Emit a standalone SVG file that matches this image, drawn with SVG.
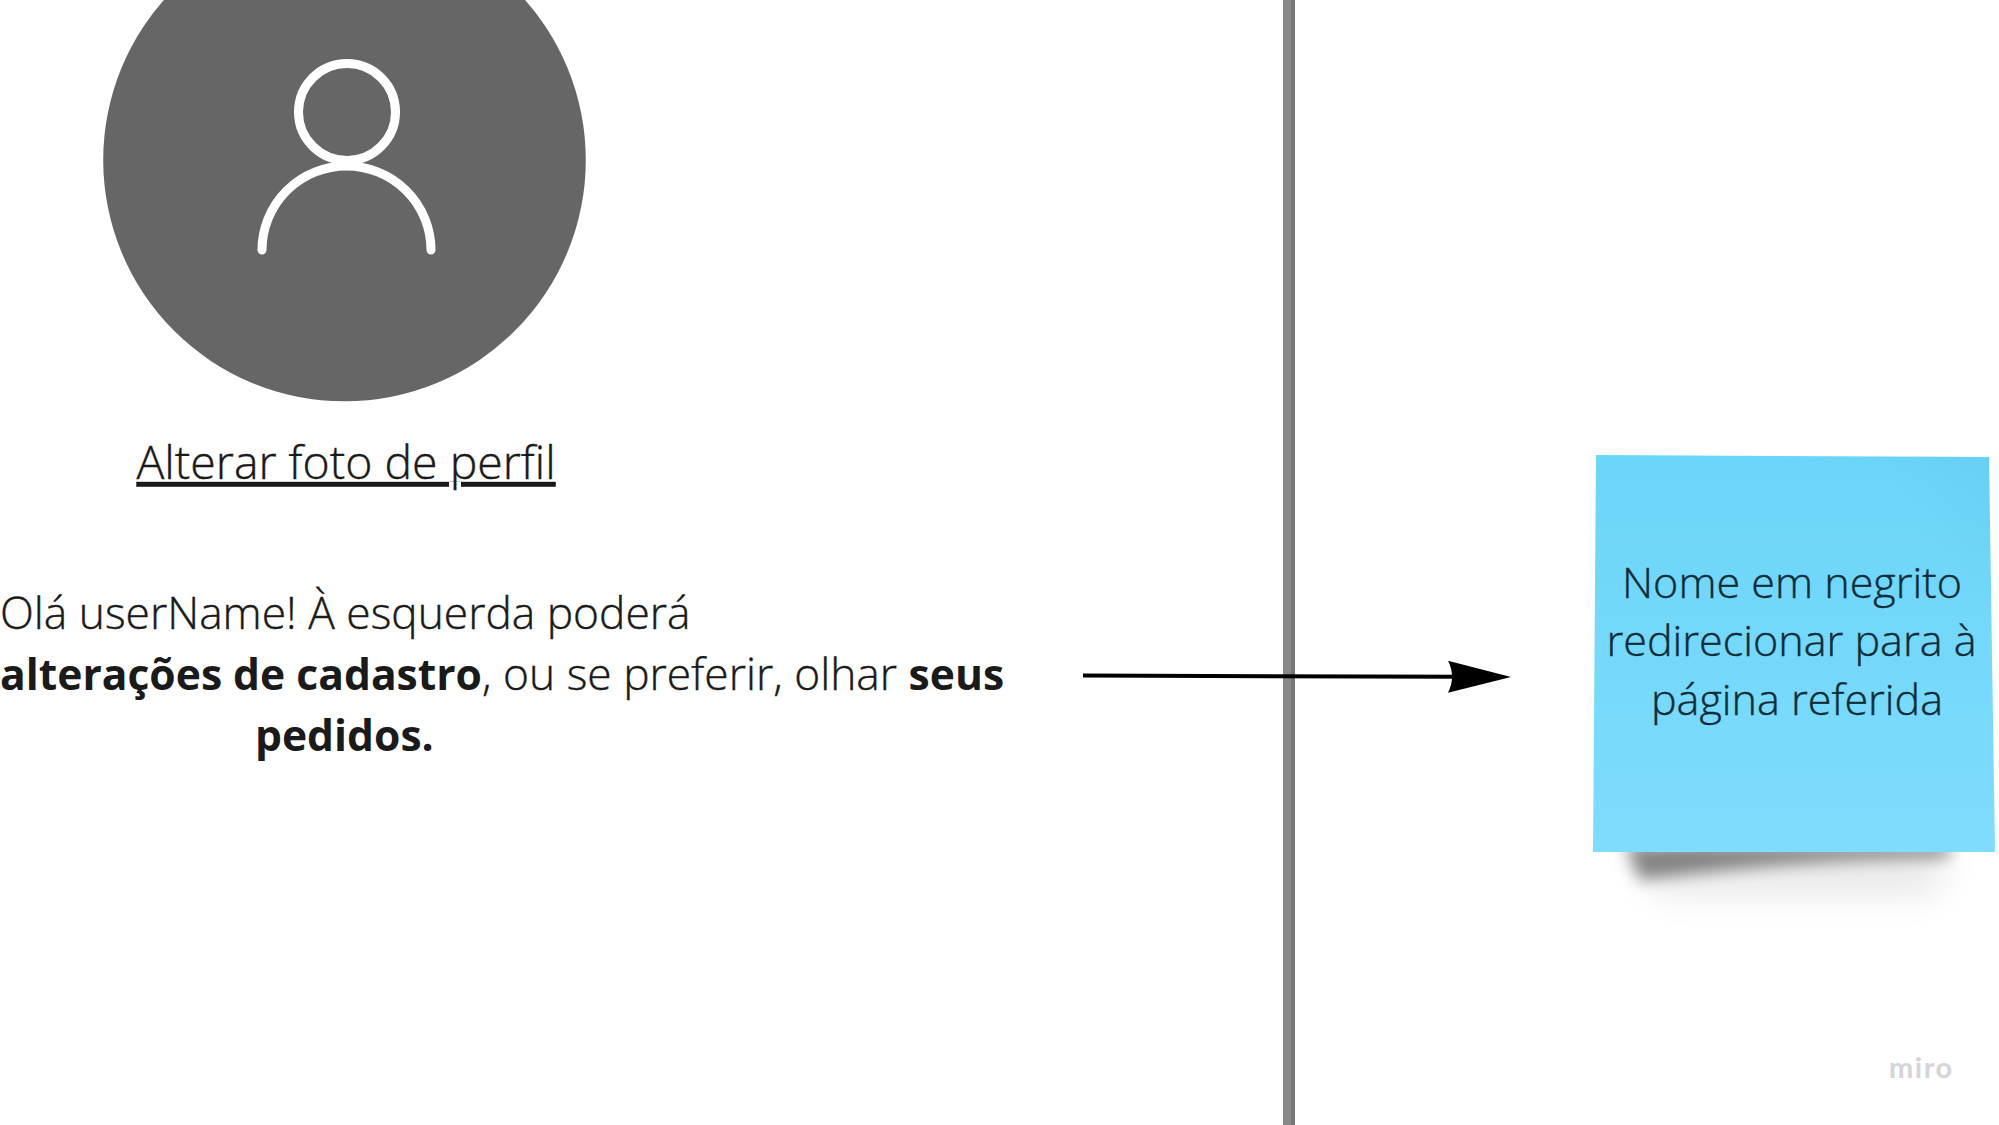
<svg xmlns="http://www.w3.org/2000/svg" width="1999" height="1125" viewBox="0 0 1999 1125">
<style>
text{font-family:"Open Sans","Noto Sans",sans-serif;fill:#1a1a1a;font-weight:300;stroke:#1a1a1a;stroke-width:.4px}
.a{font-size:46.400px}
.t{font-size:44.300px}
.b{font-weight:700;font-size:42.600px;stroke:none}
.s{font-size:43.100px;fill:#0f2d38;stroke:#0f2d38;text-anchor:middle}
.icon{fill:none;stroke:#fff;stroke-width:9;stroke-linecap:round}
</style>
<defs>
<linearGradient id="sg" x1="0" y1="0" x2="0" y2="1"><stop offset="0" stop-color="#6bd5f9"/><stop offset="1" stop-color="#7fdcfd"/></linearGradient>
<linearGradient id="cg" x1="0" y1="1" x2="1" y2="0"><stop offset=".55" stop-color="#5cc4e6" stop-opacity="0"/><stop offset="1" stop-color="#5cc4e6" stop-opacity=".3"/></linearGradient>
<filter id="bl" x="-20%" y="-100%" width="140%" height="300%"><feGaussianBlur stdDeviation="8"/></filter>
<filter id="bl2" x="-20%" y="-100%" width="140%" height="300%"><feGaussianBlur stdDeviation="18"/></filter>
<marker id="ah" markerUnits="userSpaceOnUse" markerWidth="64" markerHeight="32" refX="12" refY="16" orient="auto"><path d="M0 0L63 16L0 32Q8 16 0 0Z" fill="#000"/></marker>
</defs>
<rect width="1999" height="1125" fill="#fff"/>
<g id="divider"><rect x="1283" y="0" width="8" height="1125" fill="#888"/><rect x="1291" y="0" width="4" height="1125" fill="#777"/></g>
<g id="avatar">
<circle cx="344.500" cy="160" r="241.300" fill="#666"/>
<circle class="icon" cx="347" cy="112" r="48.500"/>
<path class="icon" d="M262 250A84.500 84 0 0 1 431 250"/>
</g>
<g id="photo-link"><text class="a" x="136.500" y="479" text-decoration="underline">Alterar foto de perfil</text></g>
<g id="message">
<text class="t" x="0" y="629">Olá userName! À esquerda poderá</text>
<text class="t" x="0" y="690"><tspan class="b">alterações de cadastro</tspan>, ou se preferir, olhar <tspan class="b">seus</tspan></text>
<text class="t b" x="255" y="751">pedidos.</text>
</g>
<g id="connectors"><path d="M1083 675.500L1460 676.800" fill="none" stroke="#000" stroke-width="4" marker-end="url(#ah)"/></g>
<g id="sticky">
<path d="M1625 845H1955L1945 858Q1780 860 1640 880Z" fill="#000" opacity=".45" filter="url(#bl)"/>
<path d="M1630 850H1950L1935 895H1660Z" fill="#000" opacity=".09" filter="url(#bl2)"/>
<polygon points="1596,455 1989,457 1995,852 1593,852" fill="url(#sg)"/>
<polygon points="1850,456 1989,457 1991,640" fill="url(#cg)"/>
<text class="s" x="1792" y="598">Nome em negrito</text>
<text class="s" x="1791.500" y="656">redirecionar para à</text>
<text class="s" x="1797" y="715">página referida</text>
</g>
<g id="watermark"><text x="1889" y="1078" style="font-family:Lato,sans-serif;font-size:29px;font-weight:700;fill:#d4d4da;stroke:none;letter-spacing:1.500px">miro</text></g>
</svg>
